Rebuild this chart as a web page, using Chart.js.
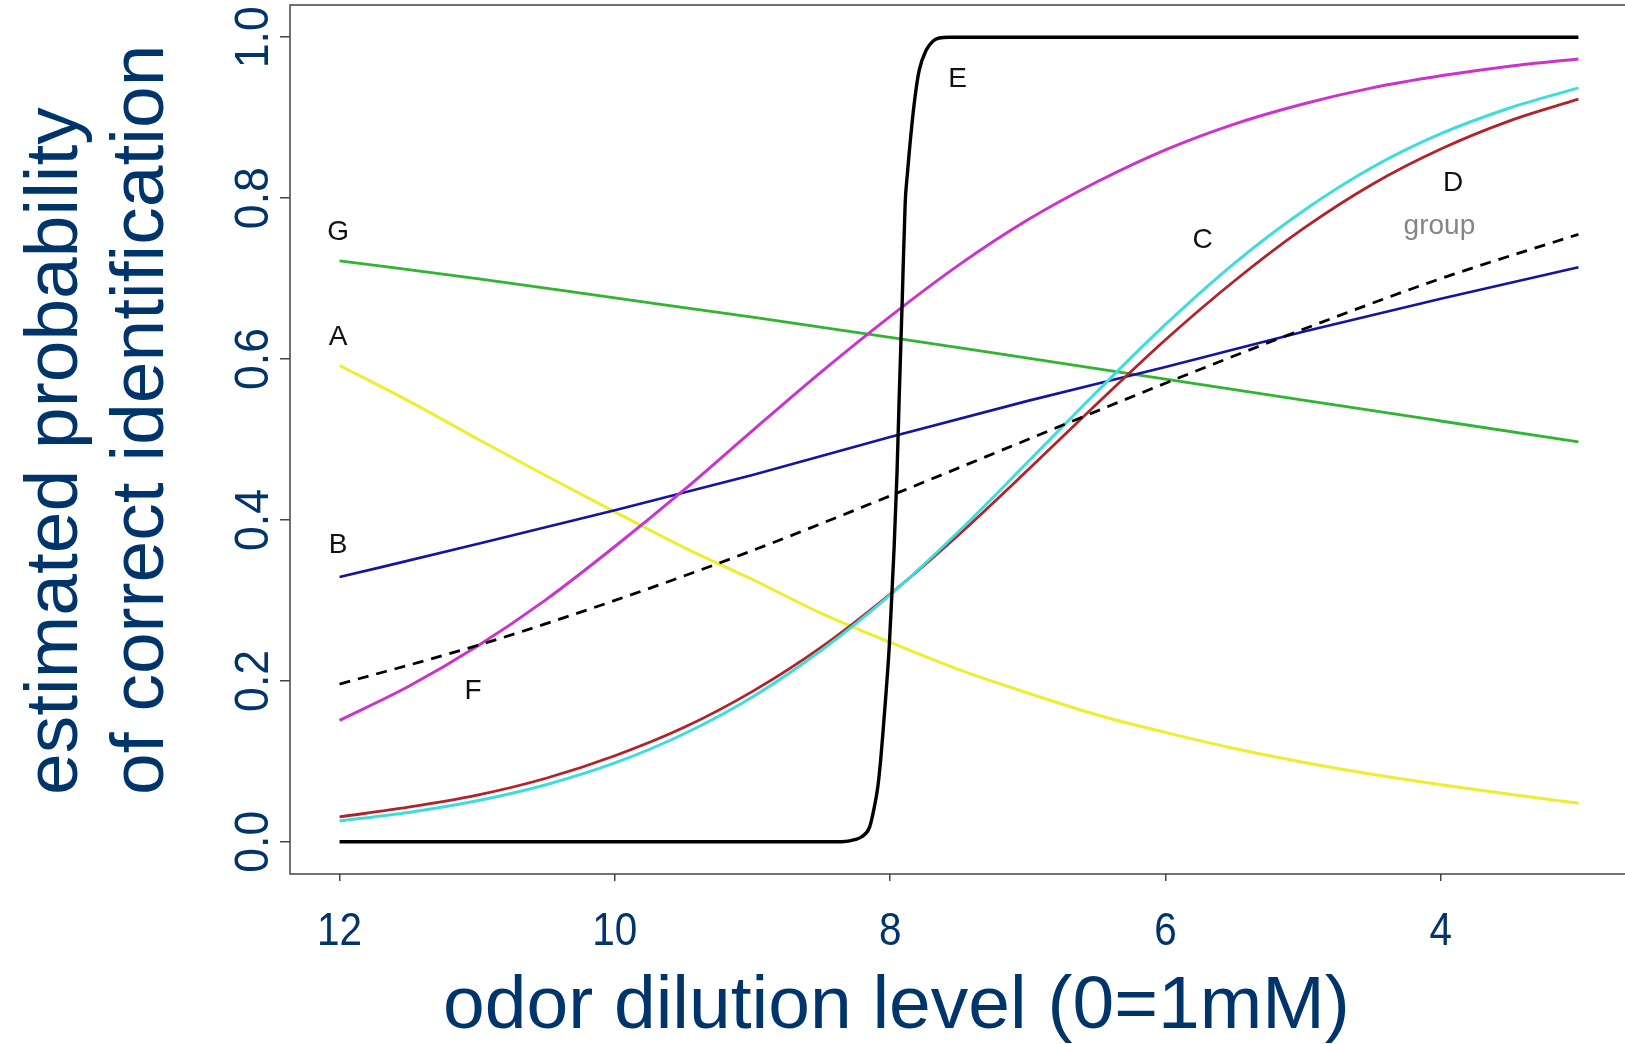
<!DOCTYPE html>
<html>
<head>
<meta charset="utf-8">
<script src="https://cdn.jsdelivr.net/npm/chart.js@4.4.1/dist/chart.umd.min.js"></script>
<style>
    html, body { margin: 0; padding: 0; background: #fff; overflow: hidden; }
</style>
</head>
<body>
<canvas id="probChart" width="1640" height="1044"></canvas>
<script>
// dilution levels (x)
const xFine = [12, 11.5, 11, 10.5, 10, 9.5, 9, 8.5, 8, 7.5, 7, 6.5, 6, 5.5, 5, 4.5, 4, 3.5, 3];
const xCoarse = [12, 11, 10, 9, 8, 7, 6, 5, 4, 3];
const xE = [12, 11, 10, 9, 8.6, 8.35, 8.25, 8.21, 8.15, 8.12, 8.09, 8.07, 8.055, 8.03, 8.007, 7.99, 7.971, 7.95, 7.935,
            7.913, 7.891, 7.875, 7.862, 7.825, 7.789, 7.738, 7.69, 7.644, 7.571, 7, 6, 5, 4, 3];

// estimated probabilities per subject
const seriesA = [0.592, 0.548, 0.501, 0.455, 0.410, 0.366, 0.326, 0.284, 0.248, 0.214, 0.185, 0.158, 0.136, 0.116, 0.099, 0.084, 0.071, 0.059, 0.048];
const seriesB = [0.329, 0.370, 0.412, 0.456, 0.503, 0.548, 0.590, 0.634, 0.675, 0.714];
const seriesC = [0.026, 0.0365, 0.051, 0.071, 0.098, 0.134, 0.180, 0.238, 0.307, 0.386, 0.472, 0.559, 0.643, 0.719, 0.784, 0.838, 0.880, 0.912, 0.937];
const seriesD = [0.031, 0.043, 0.058, 0.079, 0.107, 0.142, 0.187, 0.242, 0.308, 0.382, 0.462, 0.544, 0.624, 0.697, 0.762, 0.817, 0.861, 0.896, 0.923];
const seriesE = [0, 0, 0, 0, 0, 0, 0.003, 0.006, 0.018, 0.039, 0.068, 0.100, 0.130, 0.185, 0.242, 0.300, 0.367, 0.460, 0.549,
                 0.670, 0.794, 0.830, 0.856, 0.918, 0.959, 0.984, 0.995, 0.999, 1, 1, 1, 1, 1, 1];
const seriesF = [0.151, 0.193, 0.243, 0.301, 0.367, 0.437, 0.511, 0.584, 0.653, 0.717, 0.773, 0.820, 0.860, 0.892, 0.917, 0.937, 0.952, 0.964, 0.973];
const seriesG = [0.722, 0.700, 0.676, 0.652, 0.627, 0.601, 0.575, 0.549, 0.523, 0.497];
const seriesGroup = [0.196, 0.244, 0.300, 0.362, 0.430, 0.500, 0.570, 0.637, 0.700, 0.755];

// axis ticks
const xTicks = [12, 10, 8, 6, 4];
const xTickLabels = ['12', '10', '8', '6', '4'];
const yTicks = [0, 0.2, 0.4, 0.6, 0.8, 1.0];
const yTickLabels = ['0.0', '0.2', '0.4', '0.6', '0.8', '1.0'];

// curve names placed in the plot (data units)
const curveLabels = ['G', 'A', 'B', 'F', 'E', 'C', 'D', 'group'];
const curveLabelX = [12.01, 12.01, 12.01, 11.03, 7.51, 5.73, 3.91, 4.01];
const curveLabelY = [0.758, 0.627, 0.368, 0.187, 0.948, 0.748, 0.818, 0.765];

const NAVY = '#00356B';

function pairs(xs, ys) {
    return xs.map((x, i) => ({ x: x, y: ys[i] }));
}

// Plot frame
const framePlugin = {
    id: 'frame',
    beforeDatasetsDraw(chart) {
        const { ctx, chartArea: a } = chart;
        ctx.save();
        ctx.strokeStyle = '#444';
        ctx.lineWidth = 1.5;
        ctx.strokeRect(a.left, a.top, a.right - a.left, a.bottom - a.top);
        ctx.restore();
    }
};

// Tick labels, axis titles and curve names
const textPlugin = {
    id: 'texts',
    afterDraw(chart) {
        const ctx = chart.ctx;
        const xs = chart.scales.x;
        const ys = chart.scales.y;
        ctx.save();
        ctx.fillStyle = NAVY;
        ctx.textAlign = 'center';
        ctx.textBaseline = 'alphabetic';

        // x tick labels, a bit narrow like the original
        ctx.font = '46px "Liberation Sans", Arial, sans-serif';
        xTicks.forEach((v, i) => {
            ctx.save();
            ctx.translate(xs.getPixelForValue(v), 945);
            ctx.scale(0.88, 1);
            ctx.fillText(xTickLabels[i], 0, 0);
            ctx.restore();
        });

        // y tick labels, rotated
        ctx.font = '48px "Liberation Sans", Arial, sans-serif';
        yTicks.forEach((v, i) => {
            ctx.save();
            ctx.translate(268, ys.getPixelForValue(v));
            ctx.rotate(-Math.PI / 2);
            ctx.scale(0.93, 1);
            ctx.fillText(yTickLabels[i], 0, 0);
            ctx.restore();
        });

        // axis titles
        ctx.font = '75px "Liberation Sans", Arial, sans-serif';
        ctx.textAlign = 'left';
        ctx.fillText('odor dilution level (0=1mM)', 443, 1028);

        ctx.save();
        ctx.translate(77, 795);
        ctx.rotate(-Math.PI / 2);
        ctx.fillText('estimated probability', 0, 0);
        ctx.restore();
        ctx.save();
        ctx.translate(163, 795);
        ctx.rotate(-Math.PI / 2);
        ctx.fillText('of correct identification', 0, 0);
        ctx.restore();

        // curve names
        ctx.font = '28px "Liberation Sans", Arial, sans-serif';
        ctx.textAlign = 'center';
        ctx.textBaseline = 'middle';
        curveLabels.forEach((t, i) => {
            ctx.fillStyle = t === 'group' ? '#858585' : '#111';
            ctx.fillText(t, xs.getPixelForValue(curveLabelX[i]), ys.getPixelForValue(curveLabelY[i]));
        });
        ctx.restore();
    }
};

function line(label, xs, ys, color, width, dash) {
    return {
        label: label,
        data: pairs(xs, ys),
        borderColor: color,
        borderWidth: width,
        borderDash: dash || [],
        pointRadius: 0,
        fill: false,
        cubicInterpolationMode: 'monotone'
    };
}

new Chart(document.getElementById('probChart'), {
    type: 'line',
    data: {
        datasets: [
            line('E', xE, seriesE, '#000000', 3.4),
            line('group', xCoarse, seriesGroup, '#000000', 2.8, [11, 8]),
            line('F', xFine, seriesF, '#CC33CC', 3),
            line('C', xFine, seriesC, '#3EDDDD', 3),
            line('D', xFine, seriesD, '#B3222A', 2.8),
            line('B', xCoarse, seriesB, '#1414A0', 2.6),
            line('G', xCoarse, seriesG, '#30B530', 2.8),
            line('A', xFine, seriesA, '#EEEE30', 3)
        ]
    },
    options: {
        responsive: false,
        devicePixelRatio: 1,
        animation: false,
        layout: { padding: { top: 5, right: 12, left: 0, bottom: 0 } },
        plugins: {
            legend: { display: false },
            tooltip: { enabled: false }
        },
        scales: {
            x: {
                type: 'linear',
                reverse: true,
                min: 2.64,
                max: 12.36,
                afterBuildTicks: s => { s.ticks = xTicks.map(v => ({ value: v })); },
                afterFit: s => { s.height = 170; },
                ticks: { display: false },
                grid: { drawOnChartArea: false, drawTicks: true, tickLength: 7, tickColor: '#444', lineWidth: 1.5 },
                border: { display: false }
            },
            y: {
                type: 'linear',
                min: -0.04,
                max: 1.04,
                afterBuildTicks: s => { s.ticks = yTicks.map(v => ({ value: v })); },
                afterFit: s => { s.width = 290; },
                ticks: { display: false },
                grid: { drawOnChartArea: false, drawTicks: true, tickLength: 10, tickColor: '#444', lineWidth: 1.5 },
                border: { display: false }
            }
        }
    },
    plugins: [framePlugin, textPlugin]
});
</script>
</body>
</html>
